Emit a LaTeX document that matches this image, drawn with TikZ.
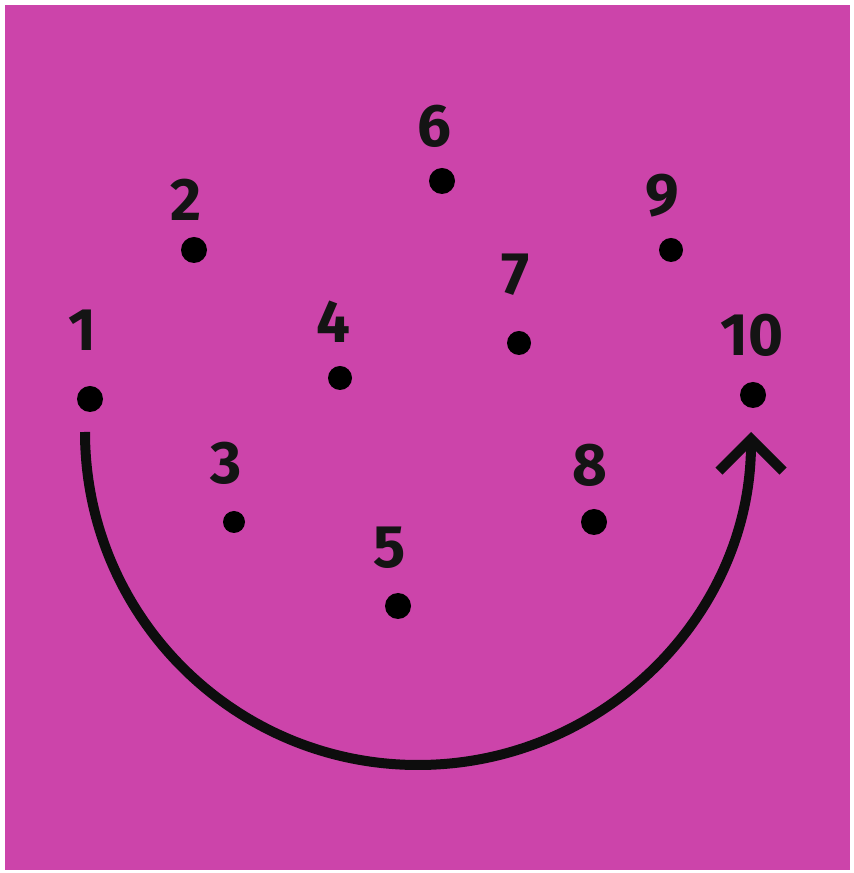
\documentclass[tikz,border=0pt]{standalone}
\usepackage{fontspec}
\setmainfont{Fira Sans}
\usetikzlibrary{arrows.meta}
\definecolor{bgmag}{RGB}{204,68,170}
\tikzset{
  dot/.style={circle,fill=black,inner sep=0pt,minimum size=26pt},
  num/.style={inner sep=0pt,font=\fontsize{60}{60}\selectfont\bfseries,text=black!92},
  path/.style={line width=10pt,draw=black!95}
}
\begin{document}
\begin{tikzpicture}[x=1pt,y=1pt]
\useasboundingbox (0,0) rectangle (854,873);
\fill[white] (0,0) rectangle (854,873);
\fill[bgmag] (5,3) rectangle (850,868);
\node[dot] (d1) at (90,474) {};
\node[dot] (d2) at (194,623) {};
\node[dot,minimum size=22pt] (d3) at (234,351) {};
\node[dot,minimum size=24pt] (d4) at (340,495) {};
\node[dot] (d5) at (398,267) {};
\node[dot] (d6) at (442,692) {};
\node[dot,minimum size=24pt] (d7) at (519,530) {};
\node[dot] (d8) at (594,351) {};
\node[dot,minimum size=24pt] (d9) at (671,623) {};
\node[dot] (d10) at (753,478) {};
\node[num] (l1) at (82,543) {1};
\node[num] (l2) at (186,673) {2};
\node[num] (l3) at (226,410) {3};
\node[num] (l4) at (333,551) {4};
\node[num] (l5) at (390,325) {5};
\node[num] (l6) at (434,747) {6};
\node[num] (l7) at (516,598) {7};
\node[num] (l8) at (590,408) {8};
\node[num] (l9) at (662,677) {9};
\node[num] (l10) at (752,538) {10};
\coordinate (s) at (85,441);
\draw[path,-{Straight Barb[length=32pt,width=64pt]}] (s) arc[start angle=180,end angle=360,radius=333];
\end{tikzpicture}
\end{document}
